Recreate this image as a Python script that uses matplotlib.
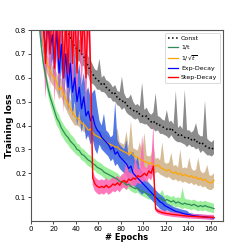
import numpy as np
import matplotlib
matplotlib.use('Agg')
import matplotlib.pyplot as plt

# epocas amostradas (1, 3, 5, ..., 163)
epochs = np.arange(1, 164, 2)

# ---- curvas medias ----
const_mean = [1.60, 1.50, 1.42, 1.35, 1.28, 1.22, 1.16, 1.10, 1.05, 1.00,
              0.96, 0.93, 0.90, 0.87, 0.84, 0.81, 0.79, 0.77, 0.745, 0.73,
              0.72, 0.715, 0.70, 0.69, 0.665, 0.65, 0.625, 0.615, 0.60, 0.59,
              0.585, 0.57, 0.575, 0.56, 0.55, 0.545, 0.53, 0.535, 0.515, 0.51,
              0.50, 0.505, 0.485, 0.48, 0.47, 0.465, 0.455, 0.46, 0.445, 0.44,
              0.435, 0.44, 0.425, 0.415, 0.42, 0.405, 0.41, 0.40, 0.395, 0.39,
              0.385, 0.38, 0.39, 0.375, 0.37, 0.36, 0.365, 0.355, 0.35, 0.345,
              0.35, 0.34, 0.345, 0.33, 0.335, 0.32, 0.325, 0.315, 0.31, 0.305,
              0.30, 0.31]
inv_t_mean = [1.30, 1.10, 0.95, 0.84, 0.74, 0.66, 0.61, 0.56, 0.52, 0.49,
              0.46, 0.43, 0.415, 0.39, 0.375, 0.36, 0.35, 0.335, 0.325, 0.315,
              0.30, 0.295, 0.28, 0.275, 0.265, 0.255, 0.25, 0.24, 0.235, 0.225,
              0.22, 0.215, 0.205, 0.20, 0.195, 0.19, 0.185, 0.18, 0.175, 0.165,
              0.165, 0.16, 0.15, 0.155, 0.145, 0.14, 0.135, 0.14, 0.13, 0.125,
              0.12, 0.115, 0.11, 0.11, 0.105, 0.10, 0.095, 0.095, 0.09, 0.085,
              0.09, 0.085, 0.08, 0.085, 0.075, 0.08, 0.075, 0.07, 0.075, 0.07,
              0.07, 0.065, 0.07, 0.065, 0.06, 0.065, 0.06, 0.065, 0.06, 0.058,
              0.055, 0.052]
inv_sqrt_mean = [1.50, 1.30, 1.15, 1.02, 0.90, 0.76, 0.68, 0.65, 0.63, 0.61,
                 0.60, 0.58, 0.55, 0.56, 0.53, 0.51, 0.49, 0.47, 0.455, 0.44,
                 0.43, 0.425, 0.41, 0.405, 0.395, 0.38, 0.385, 0.37, 0.36, 0.355,
                 0.35, 0.345, 0.34, 0.33, 0.325, 0.32, 0.315, 0.31, 0.31, 0.30,
                 0.295, 0.29, 0.285, 0.28, 0.29, 0.275, 0.27, 0.265, 0.26, 0.255,
                 0.25, 0.245, 0.24, 0.245, 0.235, 0.23, 0.235, 0.225, 0.22, 0.215,
                 0.21, 0.215, 0.205, 0.20, 0.205, 0.195, 0.20, 0.19, 0.195, 0.19,
                 0.185, 0.19, 0.18, 0.185, 0.175, 0.18, 0.17, 0.175, 0.165, 0.16,
                 0.16, 0.17]
exp_mean = [1.50, 1.30, 1.10, 0.95, 0.85, 0.82, 0.70, 0.85, 0.72, 0.78,
            0.66, 0.80, 0.62, 0.74, 0.60, 0.70, 0.56, 0.66, 0.54, 0.60,
            0.50, 0.56, 0.47, 0.52, 0.44, 0.46, 0.42, 0.44, 0.40, 0.38,
            0.37, 0.35, 0.34, 0.33, 0.32, 0.30, 0.31, 0.28, 0.29, 0.27,
            0.26, 0.25, 0.24, 0.22, 0.23, 0.20, 0.19, 0.18, 0.17, 0.16,
            0.15, 0.14, 0.13, 0.12, 0.11, 0.10, 0.09, 0.08, 0.075, 0.065,
            0.06, 0.055, 0.05, 0.045, 0.04, 0.038, 0.035, 0.032, 0.03, 0.028,
            0.026, 0.024, 0.022, 0.021, 0.02, 0.019, 0.018, 0.017, 0.016, 0.015,
            0.014, 0.013]
step_mean = [1.60, 1.40, 1.20, 1.00, 0.92, 0.85, 0.66, 0.90, 0.70, 0.95,
             0.64, 0.88, 0.68, 0.96, 0.60, 0.85, 0.62, 0.92, 0.66, 0.90,
             0.62, 0.95, 0.70, 0.88, 0.60, 0.93, 0.65, 0.18, 0.155, 0.145,
             0.14, 0.145, 0.14, 0.15, 0.14, 0.145, 0.155, 0.15, 0.16, 0.15,
             0.165, 0.17, 0.16, 0.175, 0.17, 0.18, 0.175, 0.19, 0.185, 0.19,
             0.20, 0.19, 0.21, 0.20, 0.23, 0.05, 0.042, 0.038, 0.035, 0.033,
             0.031, 0.03, 0.028, 0.027, 0.026, 0.025, 0.024, 0.023, 0.022, 0.021,
             0.02, 0.02, 0.019, 0.019, 0.018, 0.018, 0.017, 0.017, 0.016, 0.016,
             0.016, 0.015]

# ---- meia largura das faixas ----
const_width = [0.05] * 10 + \
    [0.05, 0.05, 0.05, 0.05, 0.05, 0.05, 0.05, 0.045, 0.05, 0.045,
     0.05, 0.045, 0.05, 0.04, 0.045, 0.04, 0.05, 0.04, 0.035, 0.04,
     0.035, 0.03, 0.035, 0.03, 0.035, 0.03, 0.03, 0.035, 0.03, 0.03,
     0.035, 0.03, 0.03, 0.035, 0.03, 0.035, 0.03, 0.03, 0.035, 0.03,
     0.03, 0.035, 0.03, 0.03, 0.035, 0.03, 0.03, 0.035, 0.03, 0.03,
     0.03, 0.035, 0.03, 0.03, 0.035, 0.03, 0.035, 0.03, 0.03, 0.035,
     0.03, 0.03, 0.035, 0.03, 0.03, 0.035, 0.03, 0.03, 0.035, 0.03,
     0.03, 0.03]
inv_t_width = [0.03] * 20 + [0.025] * 20 + [0.02] * 42
inv_sqrt_width = [0.04] * 20 + [0.03] * 30 + [0.03] * 32
exp_width = [0.10] * 30 + [0.05] * 20 + [0.03] * 10 + [0.015] * 10 + [0.008] * 12
step_width = [0.15] * 27 + [0.03] * 28 + [0.01] * 27

# ---- picos (sobem a borda superior da faixa) ----
const_spike_epochs = [61, 81, 89, 99, 111, 121, 129, 137, 147, 155]
const_spike_heights = [0.06, 0.07, 0.03, 0.11, 0.10, 0.05, 0.14, 0.17, 0.05, 0.16]
inv_t_spike_epochs = [117, 135]
inv_t_spike_heights = [0.02, 0.05]
inv_sqrt_spike_epochs = [77, 85, 89, 97, 101, 109, 117, 125, 133, 141, 149, 157]
inv_sqrt_spike_heights = [0.05, 0.06, 0.10, 0.04, 0.09, 0.06, 0.08, 0.05, 0.07, 0.05, 0.06, 0.04]
exp_spike_epochs = [57, 65, 75, 85, 91, 95]
exp_spike_heights = [0.05, 0.06, 0.17, 0.05, 0.04, 0.04]
step_spike_epochs = [85, 93, 99, 109]
step_spike_heights = [0.06, 0.06, 0.14, 0.15]

labels = ['Const', '1/t', r'1/$\sqrt{t}$', 'Exp-Decay', 'Step-Decay']


def band(mean, width, spike_epochs, spike_heights):
    mean = np.array(mean)
    width = np.array(width)
    upper = mean + width
    lower = mean - width
    for e, h in zip(spike_epochs, spike_heights):
        upper[list(epochs).index(e)] += h
    return lower, upper


series = [
    (const_mean, const_width, const_spike_epochs, const_spike_heights,
     'black', 'gray', ':', 1.1),
    (inv_t_mean, inv_t_width, inv_t_spike_epochs, inv_t_spike_heights,
     '#2e8b57', '#90ee90', '-', 0.9),
    (inv_sqrt_mean, inv_sqrt_width, inv_sqrt_spike_epochs, inv_sqrt_spike_heights,
     'orange', 'tan', '-', 0.9),
    (exp_mean, exp_width, exp_spike_epochs, exp_spike_heights,
     'blue', 'royalblue', '-', 0.9),
    (step_mean, step_width, step_spike_epochs, step_spike_heights,
     'red', 'hotpink', '-', 1.0),
]

plt.rcParams['font.family'] = 'DejaVu Sans'
fig = plt.figure(figsize=(2.49, 2.49), dpi=100)
ax = fig.add_axes([0.1245, 0.1124, 0.771, 0.767])

for mean, width, se, sh, lc, fc, ls, lw in series:
    lo, hi = band(mean, width, se, sh)
    ax.fill_between(epochs, lo, hi, color=fc, alpha=0.9, linewidth=0)

for (mean, width, se, sh, lc, fc, ls, lw), lab in zip(series, labels):
    ax.plot(epochs, mean, color=lc, linestyle=ls, linewidth=lw, label=lab)

ax.set_xlim(0, 171)
ax.set_ylim(0, 0.8)
ax.set_xticks(range(0, 161, 20))
ax.set_yticks([0.1, 0.2, 0.3, 0.4, 0.5, 0.6, 0.7, 0.8])
ax.tick_params(labelsize=5, length=2, width=0.5, pad=1.5)
for s in ax.spines.values():
    s.set_color('#555555')
    s.set_linewidth(0.8)
ax.set_xlabel('# Epochs', fontsize=6, fontweight='bold', labelpad=1)
ax.set_ylabel('Training loss', fontsize=6.5, fontweight='bold', labelpad=1)
leg = ax.legend(loc='upper right', fontsize=4.5, handlelength=1.6,
                borderpad=0.4, labelspacing=0.55, handletextpad=0.5,
                framealpha=1, fancybox=True)
leg.get_frame().set_linewidth(0.5)

fig.savefig('out.png', dpi=100)
